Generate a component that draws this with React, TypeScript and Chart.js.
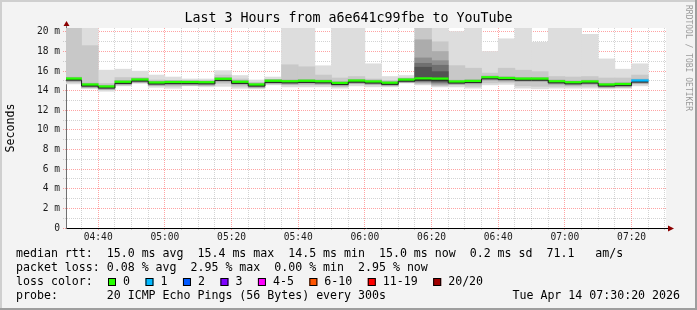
import React, { useEffect, useRef } from 'react';
import { Chart, registerables } from 'chart.js';

Chart.register(...registerables);

// ---------- text ----------
const titleText = 'Last 3 Hours from a6e641c99fbe to YouTube';
const yAxisTitle = 'Seconds';
const creditText = 'RRDTOOL / TOBI OETIKER';
const statsLines = [
  'median rtt:  15.0 ms avg  15.4 ms max  14.5 ms min  15.0 ms now  0.2 ms sd  71.1   am/s',
  'packet loss: 0.08 % avg  2.95 % max  0.00 % min  2.95 % now',
];
const lossColorLabel = 'loss color:';
const probeLine = 'probe:       20 ICMP Echo Pings (56 Bytes) every 300s';
const timestampText = 'Tue Apr 14 07:30:20 2026';

// ---------- time range ----------
const rangeStart = '04:30:20';
const rangeEnd = '07:30:20';
const binMinutes = 5;

// ---------- data (one entry per 5-minute bin) ----------
const binStarts = [
  '04:30', '04:35', '04:40', '04:45', '04:50', '04:55', '05:00', '05:05', '05:10', '05:15',
  '05:20', '05:25', '05:30', '05:35', '05:40', '05:45', '05:50', '05:55', '06:00', '06:05',
  '06:10', '06:15', '06:20', '06:25', '06:30', '06:35', '06:40', '06:45', '06:50', '06:55',
  '07:00', '07:05', '07:10', '07:15', '07:20',
];

const medianMs = [
  15.23, 14.62, 14.42, 14.90, 15.13, 14.83, 14.87, 14.87, 14.85, 15.20,
  14.90, 14.62, 15.00, 14.95, 15.00, 14.95, 14.78, 15.02, 14.93, 14.80,
  15.12, 15.24, 15.22, 14.93, 14.98, 15.36, 15.28, 15.22, 15.22, 14.95,
  14.85, 14.93, 14.62, 14.67, 15.03,
];

const lostPings = [
  0, 0, 0, 0, 0, 0, 0, 0, 0, 0,
  0, 0, 0, 0, 0, 0, 0, 0, 0, 0,
  0, 0, 0, 0, 0, 0, 0, 0, 0, 0,
  0, 0, 0, 0, 1,
];

// smoke: outermost (min..max of the 20 pings)
const smokeOuter = [
  [14.70, 21.0], [14.20, 21.0], [13.95, 16.10], [14.50, 16.20], [14.75, 16.00],
  [14.35, 15.60], [14.25, 15.40], [14.50, 15.20], [14.40, 15.20], [14.45, 16.05],
  [14.25, 15.55], [14.20, 15.10], [14.60, 15.40], [14.40, 21.0], [14.40, 21.0],
  [14.40, 16.55], [14.25, 21.0], [14.50, 21.0], [14.40, 16.75], [14.40, 15.45],
  [14.80, 15.55], [14.60, 21.0], [14.40, 21.0], [14.40, 20.03], [14.25, 21.0],
  [14.60, 18.00], [14.65, 19.30], [14.25, 21.0], [14.20, 18.95], [14.25, 21.0],
  [14.25, 21.0], [14.25, 19.75], [14.20, 17.25], [14.25, 16.20], [14.50, 16.75],
];

const smokeMiddle = [
  [14.85, 21.0], [14.35, 18.60], [14.10, 14.75], [14.60, 15.35], [14.85, 15.35],
  [14.50, 15.10], [14.45, 15.05], [14.55, 14.95], [14.55, 15.00], [14.75, 15.60],
  [14.45, 15.20], [14.30, 14.85], [14.75, 15.15], [14.60, 16.65], [14.60, 16.45],
  [14.60, 15.60], [14.45, 15.30], [14.70, 15.45], [14.60, 15.20], [14.55, 15.05],
  [14.90, 15.30], [14.70, 21.0], [14.50, 19.00], [14.60, 16.56], [14.45, 16.30],
  [14.80, 15.80], [14.85, 16.30], [14.50, 16.10], [14.45, 15.95], [14.45, 15.45],
  [14.45, 15.40], [14.45, 15.45], [14.40, 15.30], [14.40, 15.30], [14.70, 15.60],
];

const smokeInner = [
  [14.93, 15.38], [14.32, 14.77], [14.12, 14.57], [14.60, 15.05], [14.83, 15.28],
  [14.53, 14.98], [14.57, 15.02], [14.57, 15.02], [14.55, 15.00], [14.90, 15.35],
  [14.60, 15.05], [14.32, 14.77], [14.70, 15.15], [14.65, 15.10], [14.70, 15.15],
  [14.65, 15.10], [14.48, 14.93], [14.72, 15.17], [14.63, 15.08], [14.50, 14.95],
  [14.82, 15.27], [14.80, 19.20], [14.60, 18.00], [14.63, 15.08], [14.68, 15.13],
  [15.06, 15.51], [14.98, 15.43], [14.92, 15.37], [14.92, 15.37], [14.65, 15.10],
  [14.55, 15.00], [14.63, 15.08], [14.32, 14.77], [14.37, 14.82], [14.73, 15.18],
];

// darker smoke layers, only present in the jittery bins
const smokeDark1 = [['06:15', 14.90, 17.35], ['06:20', 14.75, 17.07]];
const smokeDark2 = [['06:15', 14.98, 16.80], ['06:20', 14.85, 16.60]];
const smokeDark3 = [['06:15', 15.05, 16.40], ['06:20', 14.95, 15.95]];

// ---------- axes ----------
const yMax = 20.4;
const yTickValues = [0, 2, 4, 6, 8, 10, 12, 14, 16, 18, 20];
const yTickLabels = ['0', '2 m', '4 m', '6 m', '8 m', '10 m', '12 m', '14 m', '16 m', '18 m', '20 m'];
const xTickLabels = ['04:40', '05:00', '05:20', '05:40', '06:00', '06:20', '06:40', '07:00', '07:20'];

// ---------- loss legend ----------
const lossNames = ['0', '1', '2', '3', '4-5', '6-10', '11-19', '20/20'];
const lossColors = ['#26ff00', '#00b8ff', '#0059ff', '#7e00ff', '#ff00ff', '#ff5500', '#ff0000', '#a00000'];
const lossUpper = [0, 1, 2, 3, 5, 10, 19, 20];

// ---------- helpers ----------
const MONO = '"DejaVu Sans Mono"';
const toMin = (s: string) => {
  const [h, m, sec] = s.split(':').map(Number);
  return h * 60 + m + (sec || 0) / 60;
};
const fmtMin = (v: number) => {
  const h = Math.floor(v / 60);
  const m = Math.round(v - h * 60);
  return String(h).padStart(2, '0') + ':' + String(m).padStart(2, '0');
};
const lossColorFor = (n: number) => {
  const i = lossUpper.findIndex((u) => n <= u);
  return lossColors[i < 0 ? lossColors.length - 1 : i];
};

const W = 697;
const H = 310;
const PLOT_LEFT = 66;
const PLOT_RIGHT = 666;
const PLOT_TOP = 28;
const PLOT_BOTTOM = 228;

const MAJOR_GRID = 'rgba(255,0,0,0.36)';
const MINOR_GRID = 'rgba(150,150,150,0.42)';

function buildConfig(): any {
  const xMin = toMin(rangeStart);
  const xMax = toMin(rangeEnd);
  const centers = binStarts.map((s) => toMin(s) + binMinutes / 2);
  const gridMinutes: number[] = [];
  for (let t = Math.ceil(xMin / binMinutes) * binMinutes; t <= xMax + 1e-9; t += binMinutes) gridMinutes.push(t);
  const yGrid: number[] = [];
  for (let v = 0; v <= yTickValues[yTickValues.length - 1]; v += 1) yGrid.push(v);

  const barCommon = {
    type: 'bar',
    grouped: false,
    barPercentage: 1,
    categoryPercentage: 1,
    borderWidth: 0,
    clip: 0,
  };
  const layer = (ranges: number[][], color: string, order: number) => ({
    ...barCommon,
    data: centers.map((x, i) => ({ x, y: ranges[i] })),
    backgroundColor: color,
    order,
  });
  const sparse = (rows: any[], color: string, order: number) => ({
    ...barCommon,
    data: rows.map((r) => ({ x: toMin(r[0]) + binMinutes / 2, y: [r[1], r[2]] })),
    backgroundColor: color,
    order,
  });

  const lastEnd = toMin(binStarts[binStarts.length - 1]) + binMinutes;
  const lineOffset = 0.15;
  const medianLine = binStarts.map((s, i) => ({ x: toMin(s), y: medianMs[i] - lineOffset }));
  medianLine.push({ x: lastEnd, y: medianMs[medianMs.length - 1] - lineOffset });

  const halfBand = 0.1;

  const gridColor = (major: (v: number) => boolean) => (ctx: any) =>
    ctx.tick && major(ctx.tick.value) ? MAJOR_GRID : MINOR_GRID;

  return {
    type: 'bar',
    data: {
      datasets: [
        {
          type: 'line',
          data: medianLine,
          stepped: 'before',
          borderColor: '#202020',
          borderWidth: 1,
          pointRadius: 0,
          fill: false,
          clip: 0,
          order: 1,
        },
        {
          ...barCommon,
          data: centers.map((x, i) => ({ x, y: [medianMs[i] - halfBand, medianMs[i] + halfBand] })),
          backgroundColor: lostPings.map(lossColorFor),
          order: 2,
        },
        sparse(smokeDark3, '#525252', 3),
        sparse(smokeDark2, '#707070', 4),
        sparse(smokeDark1, '#8e8e8e', 5),
        layer(smokeInner, '#acacac', 6),
        layer(smokeMiddle, '#c8c8c8', 7),
        layer(smokeOuter, '#dddddd', 8),
      ],
    },
    options: {
      animation: false,
      responsive: false,
      devicePixelRatio: 1,
      events: [],
      layout: { padding: { left: 0, top: PLOT_TOP, right: W - PLOT_RIGHT, bottom: 0 } },
      plugins: { legend: { display: false }, title: { display: false }, tooltip: { enabled: false } },
      scales: {
        x: {
          type: 'linear',
          min: xMin,
          max: xMax,
          offset: false,
          z: 1,
          afterBuildTicks: (s: any) => {
            s.ticks = gridMinutes.map((v) => ({ value: v }));
          },
          afterFit: (s: any) => {
            s.height = H - PLOT_BOTTOM;
          },
          ticks: {
            autoSkip: false,
            maxRotation: 0,
            minRotation: 0,
            padding: 1,
            color: '#1a1a1a',
            font: { family: MONO, size: 9.6 },
            callback: (v: number) => {
              const l = fmtMin(v);
              return xTickLabels.includes(l) ? l : '';
            },
          },
          grid: {
            offset: false,
            lineWidth: 1,
            tickLength: 3,
            color: gridColor((v) => xTickLabels.includes(fmtMin(v))),
            tickColor: gridColor((v) => xTickLabels.includes(fmtMin(v))),
            tickBorderDash: [1, 1],
          },
          border: { display: true, color: '#000000', width: 1, dash: [1, 1] },
        },
        y: {
          type: 'linear',
          min: 0,
          max: yMax,
          z: 1,
          afterBuildTicks: (s: any) => {
            s.ticks = yGrid.map((v) => ({ value: v }));
          },
          afterFit: (s: any) => {
            s.width = PLOT_LEFT;
          },
          ticks: {
            autoSkip: false,
            padding: 3,
            color: '#1a1a1a',
            font: { family: MONO, size: 9.6 },
            callback: (v: number) => {
              const i = yTickValues.indexOf(v);
              return i >= 0 ? yTickLabels[i] : '';
            },
          },
          grid: {
            lineWidth: 1,
            tickLength: 3,
            color: gridColor((v) => yTickValues.includes(v)),
            tickColor: gridColor((v) => yTickValues.includes(v)),
            tickBorderDash: [1, 1],
          },
          border: { display: true, color: '#707070', width: 1, dash: [1, 1] },
        },
      },
    },
    plugins: [
      {
        id: 'rrdFrame',
        beforeDraw(chart: any) {
          const { ctx, chartArea: a } = chart;
          ctx.save();
          ctx.fillStyle = '#f3f3f3';
          ctx.fillRect(0, 0, W, H);
          // 3D frame
          ctx.fillStyle = '#cfcfcf';
          ctx.fillRect(0, 0, W, 2);
          ctx.fillRect(0, 0, 2, H);
          ctx.fillStyle = '#9e9e9e';
          ctx.fillRect(0, H - 2, W, 2);
          ctx.fillRect(W - 2, 0, 2, H);
          ctx.fillStyle = '#ffffff';
          ctx.fillRect(a.left, a.top, a.right - a.left, a.bottom - a.top);
          ctx.restore();
        },
        afterDraw(chart: any) {
          const { ctx, chartArea: a } = chart;
          ctx.save();
          // axis arrows
          ctx.fillStyle = '#8b0000';
          ctx.strokeStyle = '#707070';
          ctx.lineWidth = 1;
          ctx.beginPath();
          ctx.moveTo(a.left + 0.5, a.top);
          ctx.lineTo(a.left + 0.5, a.top - 3);
          ctx.stroke();
          ctx.beginPath();
          ctx.moveTo(a.left + 0.5, a.top - 7);
          ctx.lineTo(a.left - 2.5, a.top - 2);
          ctx.lineTo(a.left + 3.5, a.top - 2);
          ctx.closePath();
          ctx.fill();
          ctx.strokeStyle = '#000000';
          ctx.beginPath();
          ctx.moveTo(a.right, a.bottom + 0.5);
          ctx.lineTo(a.right + 3, a.bottom + 0.5);
          ctx.stroke();
          ctx.beginPath();
          ctx.moveTo(a.right + 8, a.bottom + 0.5);
          ctx.lineTo(a.right + 2, a.bottom - 2.5);
          ctx.lineTo(a.right + 2, a.bottom + 3.5);
          ctx.closePath();
          ctx.fill();

          // title
          ctx.fillStyle = '#000000';
          ctx.font = `13.3px ${MONO}`;
          ctx.textAlign = 'center';
          ctx.textBaseline = 'middle';
          ctx.fillText(titleText, W / 2, 19);

          // y axis title
          ctx.save();
          ctx.translate(11, (a.top + a.bottom) / 2);
          ctx.rotate(-Math.PI / 2);
          ctx.font = `11.6px ${MONO}`;
          ctx.fillText(yAxisTitle, 0, 0);
          ctx.restore();

          // credit
          ctx.save();
          ctx.translate(688, 5);
          ctx.rotate(Math.PI / 2);
          ctx.font = `8px ${MONO}`;
          ctx.fillStyle = '#9a9a9a';
          ctx.textAlign = 'left';
          ctx.fillText(creditText, 0, 0);
          ctx.restore();

          // legend
          ctx.font = `11.6px ${MONO}`;
          ctx.textAlign = 'left';
          ctx.fillStyle = '#000000';
          const x0 = 16;
          const lineY = [254, 268, 282, 296];
          ctx.fillText(statsLines[0], x0, lineY[0]);
          ctx.fillText(statsLines[1], x0, lineY[1]);
          ctx.fillText(lossColorLabel, x0, lineY[2]);
          let sx = 108;
          lossNames.forEach((name, i) => {
            ctx.fillStyle = lossColors[i];
            ctx.fillRect(sx, lineY[2] - 4, 8, 8);
            ctx.strokeStyle = '#000000';
            ctx.strokeRect(sx + 0.5, lineY[2] - 3.5, 7, 7);
            ctx.fillStyle = '#000000';
            const lx = sx + 15;
            ctx.fillText(name, lx, lineY[2]);
            sx = lx + ctx.measureText(name).width + 15.5;
          });
          ctx.fillText(probeLine, x0, lineY[3]);
          ctx.textAlign = 'right';
          ctx.fillText(timestampText, 680, lineY[3]);
          ctx.restore();
        },
      },
    ],
  };
}

export default function App() {
  const ref = useRef<HTMLCanvasElement>(null);
  useEffect(() => {
    document.body.style.margin = '0';
    const chart = new Chart(ref.current as HTMLCanvasElement, buildConfig());
    return () => chart.destroy();
  }, []);
  return (
    <canvas
      ref={ref}
      width={W}
      height={H}
      style={{ position: 'absolute', left: 0, top: 0, width: W, height: H, display: 'block' }}
    />
  );
}
